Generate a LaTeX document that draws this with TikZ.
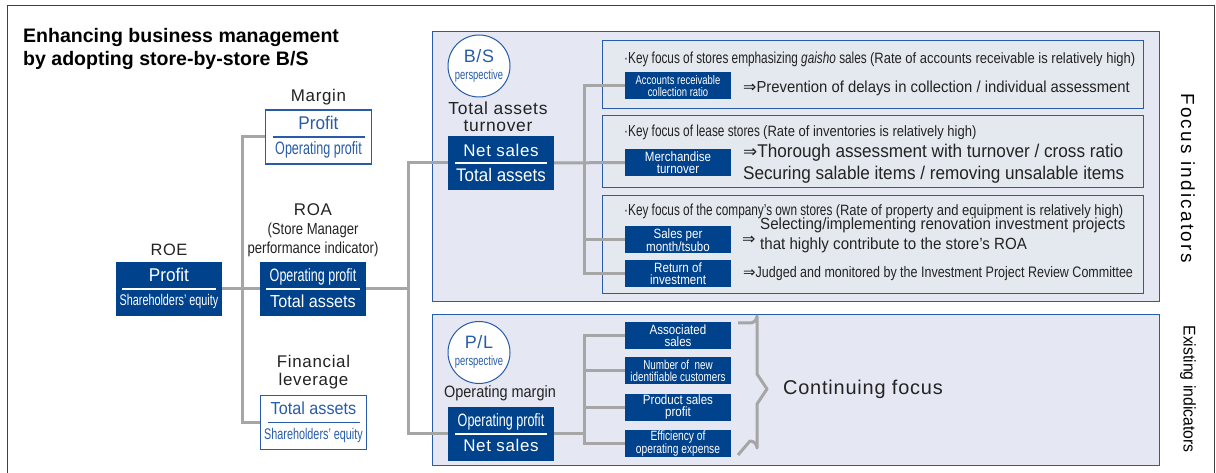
\documentclass[tikz,border=0pt]{standalone}
\usepackage{fontspec}
\setmainfont{Liberation Sans}
\newfontfamily\nf[FakeStretch=0.93]{Liberation Sans}
\newfontfamily\nfn[FakeStretch=0.88]{Liberation Sans}
\newfontfamily\nl[LetterSpace=4]{Liberation Sans}
\newfontfamily\cond[FakeStretch=0.7]{Liberation Sans}
\newfontfamily\hc[FakeStretch=0.74]{Liberation Sans}
\newfontfamily\hp[FakeStretch=0.87]{Liberation Sans}
\newfontfamily\lc[FakeStretch=0.82]{Liberation Sans}
\newfontfamily\sca[FakeStretch=0.86]{Liberation Sans}
\newfontfamily\scb[FakeStretch=0.76]{Liberation Sans}
\newfontfamily\wide[LetterSpace=12]{Liberation Sans}
\newfontfamily\arr{DejaVu Sans}
\definecolor{dblue}{RGB}{0,66,140}
\definecolor{oblue}{RGB}{40,92,168}
\definecolor{panelc}{RGB}{229,231,243}
\definecolor{subc}{RGB}{227,233,238}
\definecolor{gline}{RGB}{166,166,166}
\definecolor{txt}{RGB}{35,35,35}
\newcommand{\fs}[2]{\fontsize{#1}{#2}\selectfont}
\begin{document}
\begin{tikzpicture}[x=1bp,y=-1bp,
  gl/.style={draw=gline, line width=3bp},
  dbox/.style={fill=dblue, inner sep=0pt, minimum width=106bp, minimum height=54bp},
  obox/.style={fill=white, draw=oblue, line width=1.2bp, inner sep=0pt, minimum width=106bp, minimum height=54bp},
  sbox/.style={fill=dblue, inner sep=0pt, minimum width=106bp, minimum height=27bp, text=white, align=center, font=\sca\fs{13}{12}},
  panelbox/.style={fill=panelc, draw=oblue, line width=1bp, anchor=north west, inner sep=0pt},
  subbox/.style={fill=subc, draw=oblue, line width=1bp, anchor=north west, inner sep=0pt},
  circ/.style={circle, fill=white, draw=oblue, line width=1bp, minimum size=62bp, inner sep=0pt},
  lbl/.style={anchor=base, inner sep=0pt, text=txt},
  wt/.style={anchor=base, inner sep=0pt, text=white},
  bt/.style={anchor=base, inner sep=0pt, text=oblue},
  divw/.style={draw=white, line width=1.3bp},
  divb/.style={draw=oblue, line width=1.3bp},
  lt/.style={anchor=base west, inner sep=0pt, text=txt}
]
\useasboundingbox (0,0) rectangle (1216,473);
\fill[white] (0,0) rectangle (1216,473);
% outer frame
\draw[black!75, line width=1bp] (7,480) -- (7,6) -- (1214,6) -- (1214,480);

% title
\node[anchor=base west, inner sep=0pt, font=\bfseries\fs{19.6}{23}, text=black] (title1) at (23,43) {Enhancing business management};
\node[anchor=base west, inner sep=0pt, font=\bfseries\fs{19.6}{23}, text=black] (title2) at (23,66) {by adopting store-by-store B/S};

% panels
\node[panelbox, minimum width=727bp, minimum height=270bp] (bspanel) at (432,31) {};
\node[panelbox, minimum width=727bp, minimum height=151bp] (plpanel) at (432,314) {};
\node[subbox, minimum width=541bp, minimum height=68bp] (sub1) at (602,40) {};
\node[subbox, minimum width=541bp, minimum height=72bp] (sub2) at (602,115) {};
\node[subbox, minimum width=541bp, minimum height=98bp] (sub3) at (602,195) {};

% ratio boxes
\node[dbox] (roe) at (169,289) {};
\node[dbox] (roa) at (313,289) {};
\node[obox] (mar) at (318.5,137) {};
\node[obox] (fin) at (313.5,422.5) {};
\node[dbox] (ns) at (501,163) {};
\node[dbox] (om) at (501,434) {};

% small boxes
\node[sbox, font=\scb\fs{12.5}{11.5}] (ar) at (678,86) {Accounts receivable\\collection ratio};
\node[sbox, font=\sca\fs{13.5}{12}] (mt) at (678,162.5) {Merchandise\\turnover};
\node[sbox, font=\sca\fs{13.5}{12}] (sp) at (678,240) {Sales per\\month/tsubo};
\node[sbox, font=\sca\fs{13.5}{12}] (ri) at (678,273.5) {Return of\\investment};
\node[sbox, font=\sca\fs{13.5}{12}] (as) at (678,335.5) {Associated\\sales};
\node[sbox, font=\scb\fs{13}{11.5}] (nn) at (678,371) {Number of~ new\\identifiable customers};
\node[sbox, font=\sca\fs{13.5}{12}] (ps) at (678,407.5) {Product sales\\profit};
\node[sbox, font=\scb\fs{13.5}{12}] (ef) at (678,443.5) {Efficiency of\\operating expense};

% connectors
\coordinate (j1) at (242,289);
\coordinate (j2) at (408,289);
\coordinate (j3) at (584,163);
\coordinate (j4) at (584,434);
\draw[gl] (roe.east) -- (roa.west);
\draw[gl] (mar.west) -| (j1) |- (fin.west);
\draw[gl] (roa.east) -- (j2);
\draw[gl] (ns.west) -| (j2) |- (om.west);
\draw[gl] (ar.west) -| (j3) |- (ri.west);
\draw[gl] (ns.east) -- (mt.west);
\draw[gl] (sp.west) -- (sp.west -| j3);
\draw[gl] (as.west) -| (ef.west -| j4) -- (ef.west);
\draw[gl] (om.east) -- (j4);
\draw[gl] (nn.west) -- (nn.west -| j4);
\draw[gl] (ps.west) -- (ps.west -| j4);

% ratio box dividers and texts
\draw[divw] ([xshift=-47bp]roe.center) -- ([xshift=47bp]roe.center);
\node[wt, font=\nf\fs{18.5}{20}] (roe-t) at (169,282) {Profit};
\node[wt, font=\cond\fs{15.5}{18}] (roe-b) at (169,306) {Shareholders’ equity};

\draw[divw] ([xshift=-47bp]roa.center) -- ([xshift=47bp]roa.center);
\node[wt, font=\cond\fs{18}{20}] (roa-t) at (313,282) {Operating profit};
\node[wt, font=\nf\fs{17.5}{20}] (roa-b) at (313,308) {Total assets};

\draw[divb] ([xshift=-46bp]mar.center) -- ([xshift=46bp]mar.center);
\node[bt, font=\nf\fs{18.5}{20}] (mar-t) at (318.5,130) {Profit};
\node[bt, font=\cond\fs{18}{20}] (mar-b) at (318.5,155) {Operating profit};

\draw[divb] ([xshift=-46bp]fin.center) -- ([xshift=46bp]fin.center);
\node[bt, font=\nf\fs{17.5}{20}] (fin-t) at (313.5,415) {Total assets};
\node[bt, font=\cond\fs{15.5}{18}] (fin-b) at (313.5,440) {Shareholders’ equity};

\draw[divw] ([xshift=-46bp]ns.center) -- ([xshift=46bp]ns.center);
\node[wt, font=\nl\fs{17}{20}] (ns-t) at (501,157) {Net sales};
\node[wt, font=\nf\fs{18.3}{20}] (ns-b) at (501,182) {Total assets};

\draw[divw] ([xshift=-46bp]om.center) -- ([xshift=46bp]om.center);
\node[wt, font=\cond\fs{18}{20}] (om-t) at (501,427) {Operating profit};
\node[wt, font=\nl\fs{17}{20}] (om-b) at (501,452) {Net sales};

% labels above boxes
\node[lbl, font=\nl\fs{17}{20}] (mar-l) at (318.5,102) {Margin};
\node[lbl, font=\nl\fs{17}{20}] (roa-l1) at (313,216) {ROA};
\node[lbl, font=\lc\fs{16}{20}] (roa-l2) at (313,235) {(Store Manager};
\node[lbl, font=\lc\fs{16}{20}] (roa-l3) at (313,253.5) {performance indicator)};
\node[lbl, font=\nl\fs{16.5}{20}] (roe-l) at (169,256) {ROE};
\node[lbl, font=\nl\fs{17}{20}] (fin-l1) at (313.5,368) {Financial};
\node[lbl, font=\nl\fs{17}{20}] (fin-l2) at (313.5,386) {leverage};
\node[lbl, font=\nl\fs{17.5}{20}] (ns-l1) at (498,115) {Total assets};
\node[lbl, font=\nl\fs{17.5}{20}] (ns-l2) at (498,132) {turnover};
\node[lbl, font=\nfn\fs{16.5}{20}] (om-l) at (500,398) {Operating margin};

% perspective circles
\node[circ] (bsc) at (479,66) {};
\node[bt, font=\nl\fs{18}{20}] (bsc-t) at (479,62.5) {B/S};
\node[bt, font=\cond\fs{13.5}{15}] (bsc-b) at (479,80) {perspective};
\node[circ] (plc) at (479,352.5) {};
\node[bt, font=\nl\fs{18}{20}] (plc-t) at (479,349) {P/L};
\node[bt, font=\cond\fs{13.5}{15}] (plc-b) at (479,366) {perspective};

% sub box 1
\node[lt, font=\hc\fs{16}{18}] (h1) at (624,64) {·Key focus of stores emphasizing \textit{gaisho} sales {\hp\fs{15}{16}(Rate of accounts receivable is relatively high)}};
\node[lt, font=\nf\fs{16}{18}] (t1) at (743,93) {{\arr\fs{16}{16}⇒}Prevention of delays in collection / individual assessment};
% sub box 2
\node[lt, font=\hc\fs{16}{18}] (h2) at (624,137) {·Key focus of lease stores {\hp\fs{15}{16}(Rate of inventories is relatively high)}};
\node[lt, font=\nf\fs{18.5}{20}] (t2a) at (743,158) {{\arr\fs{17}{18}⇒}Thorough assessment with turnover / cross ratio};
\node[lt, font=\nf\fs{18.5}{20}] (t2b) at (743,180) {Securing salable items / removing unsalable items};
% sub box 3
\node[lt, font=\hc\fs{16}{18}] (h3) at (624,216) {·Key focus of the company’s own stores {\hp\fs{15}{16}(Rate of property and equipment is relatively high)}};
\node[anchor=west, inner sep=0pt, text=txt, font=\arr\fs{16}{16}] (t3arr) at (742,240) {⇒};
\node[lt, font=\nf\fs{16.3}{18}] (t3a) at (760,230) {Selecting/implementing renovation investment projects};
\node[lt, font=\nf\fs{16.3}{18}] (t3b) at (760,250) {that highly contribute to the store’s ROA};
\node[lt, font=\lc\fs{15.3}{18}] (t3c) at (743,278) {{\arr\fs{15}{16}⇒}Judged and monitored by the Investment Project Review Committee};

% brace
\draw[gl, line join=round] (738,323) -- (750,323) arc[start angle=90, end angle=0, radius=7] -- (757,374) -- (767,389) -- (757,404) -- (757,448) arc[start angle=0, end angle=-90, radius=7] -- (738,455);
\node[anchor=west, inner sep=0pt, text=txt, font=\nl\fs{20}{22}] (cont) at (783,389) {Continuing focus};

% side labels
\node[rotate=-90, inner sep=0pt, text=black, font=\wide\fs{19}{20}] (focus) at (1188,178) {Focus indicators};
\node[rotate=-90, inner sep=0pt, text=black, font=\nf\fs{17}{20}] (exist) at (1188,389) {Existing indicators};
\end{tikzpicture}
\end{document}
